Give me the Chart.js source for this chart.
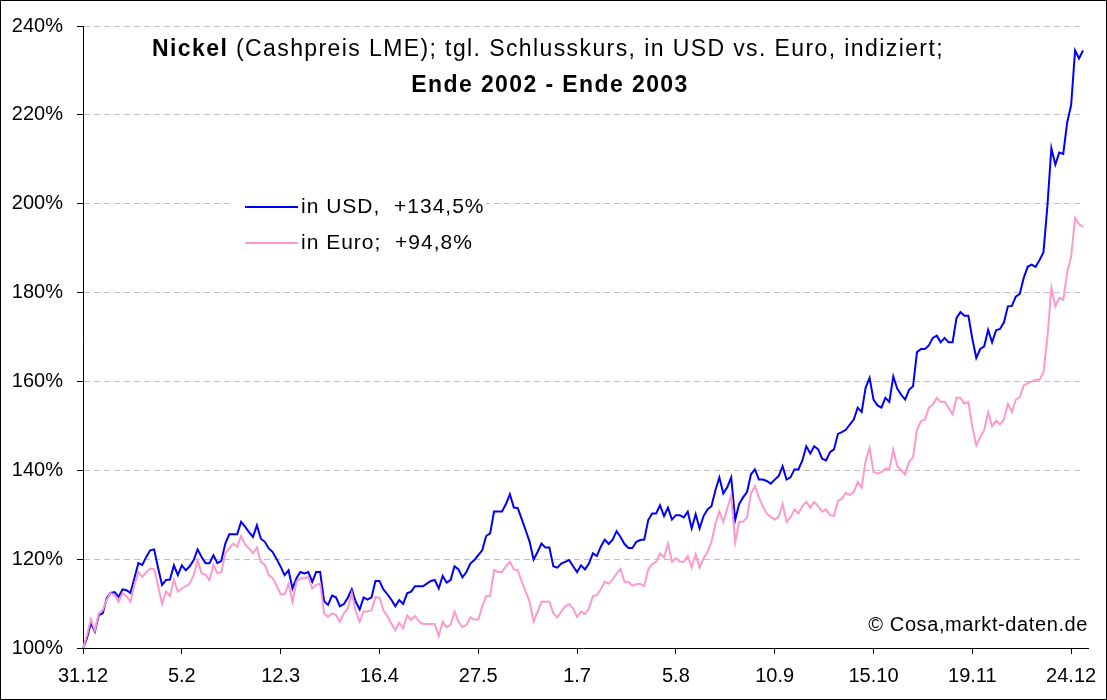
<!DOCTYPE html>
<html>
<head>
<meta charset="utf-8">
<script src="https://cdn.jsdelivr.net/npm/chart.js@4.4.0/dist/chart.umd.min.js"></script>
<style>
  body { margin: 0; background: #fff; }
  #wrap { width: 1107px; height: 700px; }
</style>
</head>
<body>
<div id="wrap"><canvas id="myChart" width="1107" height="700"></canvas></div>
<script>
// x axis: one category per trading day, a label every 25 days
var tickLabels = ['31.12', '5.2', '12.3', '16.4', '27.5', '1.7', '5.8', '10.9', '15.10', '19.11', '24.12'];
var tickEvery = 25;

// Nickel cash price, indexed (31.12.2002 = 100%)
var usd = [
  100, 102.2, 105.6, 103.7, 107.4, 107.8, 111.2, 112.4, 112.6, 111.5,
  113.2, 113, 112.4, 115.7, 119.1, 118.7, 120.5, 122, 122.2, 118,
  114.2, 115.3, 115.4, 118.6, 116.4, 118.6, 117.5, 118.4, 119.8, 122.2,
  120.5, 119.1, 119.1, 120.9, 119.1, 119.6, 123.5, 125.6, 125.6, 125.6,
  128.4, 127.3, 126.1, 125, 127.6, 124.6, 123.9, 122.4, 121.6, 120,
  118.3, 116.4, 117.5, 113.4, 115.7, 117.1, 116.8, 117.1, 114.9, 117.1,
  117.1, 110.5, 109.7, 111.8, 111.4, 109.4, 109.9, 111.3, 113.2, 110.4,
  108.7, 111.4, 110.9, 111.4, 115.1, 115.1, 113.2, 112.1, 110.9, 109.4,
  110.8, 109.9, 112.3, 112.7, 113.9, 113.9, 113.9, 114.5, 115.1, 115.3,
  113.4, 116.2, 114.7, 115.3, 118.4, 117.7, 115.9, 117.1, 119, 119.8,
  120.9, 122, 125.2, 125.8, 130.7, 130.7, 130.7, 132.4, 134.6, 131.6,
  131.5, 129, 126.5, 123.9, 119.9, 121.6, 123.5, 122.6, 122.6, 118.4,
  118.1, 119, 119.4, 119.8, 118.4, 117.1, 118.6, 117.7, 119, 121.3,
  120.7, 122.8, 124.4, 123.4, 124.4, 126.3, 125, 123.4, 122.5, 122.5,
  123.9, 124.3, 124.4, 128.8, 130.3, 130.3, 132.1, 129.7, 131.6, 128.9,
  129.9, 129.9, 129.4, 130.7, 126.9, 130.1, 126.9, 129.7, 131.2, 131.9,
  135.5, 138.4, 134.8, 136.2, 138.4, 128.8, 132.4, 133.9, 135.1, 139.1,
  140.2, 137.9, 137.9, 137.6, 137, 137.9, 138.7, 140.9, 137.9, 138.4,
  140.2, 140.2, 142.2, 145.4, 143.8, 145.4, 144.7, 142.6, 142.2, 144.1,
  144.7, 148.2, 148.6, 149.1, 150.3, 151.4, 154.1, 153.1, 158.6, 160.8,
  155.9, 154.6, 154.1, 156.3, 155.4, 161.1, 158.4, 157, 155.9, 158.1,
  158.9, 166.6, 167.3, 167.3, 168.1, 169.8, 170.3, 168.8, 169.8, 168.8,
  168.8, 174.3, 175.6, 174.8, 174.8, 169.6, 165.3, 167.3, 167.9, 171.6,
  168.8, 171.5, 171.8, 173.3, 176.9, 177, 179.1, 179.7, 183.3, 185.8,
  186.3, 185.8, 187.3, 189.1, 199.6, 212.5, 208.8, 211.5, 211.2, 218.3,
  222.2, 234.5, 232.7, 234.5
];
var euro = [
  100, 102.9, 106.5, 104, 107.8, 108.5, 110.8, 112.3, 111.9, 110.4,
  112.3, 111.7, 110.4, 114.2, 117.1, 116, 117.1, 117.9, 117.7, 114,
  109.9, 112.7, 111.7, 115.3, 112.7, 113.4, 113.9, 114.5, 116.4, 119.8,
  116.8, 116.5, 115.3, 118.7, 116.8, 117.1, 121.3, 122.4, 123.5, 122.8,
  125.2, 123.3, 122.4, 121.3, 122.6, 119.4, 118.7, 116.4, 115.7, 114,
  112.1, 112.1, 114.4, 110.4, 114.9, 115.7, 115.7, 116, 113.4, 114.2,
  114.5, 107.8, 107, 107.8, 107.4, 105.9, 107.8, 108.9, 112.3, 108.2,
  105.9, 108.2, 108.2, 108.5, 111.5, 111.3, 108.5, 107.2, 105.5, 104,
  105.7, 104.4, 107.3, 106.3, 107.2, 106, 105.4, 105.4, 105.4, 105.4,
  102.7, 105.9, 104.7, 105.2, 108.2, 105.9, 104.7, 105.2, 106.9, 106.4,
  106.4, 109.3, 111.7, 111.7, 117.5, 117.1, 117.1, 118.4, 119.4, 117.7,
  117.5, 115, 112.7, 110.4, 105.9, 108.2, 110.4, 110.4, 110.4, 107.8,
  106.9, 108.2, 109.4, 109.9, 108.9, 107, 108.2, 107.6, 108.9, 111.7,
  111.9, 113.2, 114.9, 114.5, 115.4, 116.8, 117.8, 114.9, 114.9, 114,
  114.4, 114.4, 114, 117.7, 118.9, 119.4, 121.3, 120.4, 123.5, 119.4,
  120.2, 119.4, 119.4, 120.7, 118.1, 121.1, 118.1, 120.2, 121.6, 123.9,
  127.9, 130.7, 128.4, 131.4, 134.4, 123.7, 128.4, 128.4, 129.4, 134.8,
  136.4, 133.9, 131.9, 130.3, 129.5, 128.9, 129.5, 132.4, 128.4, 129.4,
  131.2, 130.3, 131.9, 132.9, 131.6, 132.9, 131.9, 130.7, 131.2, 129.9,
  129.7, 133.1, 133.6, 134.9, 134.4, 135.1, 137.4, 136.1, 142.1, 145.1,
  139.6, 139.3, 139.6, 140.4, 140.2, 144.7, 140.9, 140, 139.1, 141.9,
  142.9, 149.1, 151.1, 151.4, 154.1, 154.8, 156.3, 155.4, 155.4, 154.1,
  152.6, 156.3, 156.3, 155, 155.4, 149.7, 145.6, 147.5, 149, 153.1,
  149.9, 151.2, 150.3, 151.4, 155, 153.1, 155.9, 156.5, 159.1, 159.6,
  160, 160.4, 160.4, 162.1, 170, 181.1, 176.9, 178.8, 178.4, 184.6,
  188.1, 196.8, 195.4, 194.8
];
var seriesNames = ['in USD,  +134,5%', 'in Euro;  +94,8%'];
var seriesColors = ['#0000ff', '#ff99cc'];

var labels = usd.map(function (v, i) {
  return i % tickEvery === 0 ? tickLabels[i / tickEvery] : '';
});

var FONT = '"Liberation Sans", Arial, sans-serif';
Chart.defaults.font.family = FONT;
Chart.defaults.color = '#000';

// title, legend box, copyright and outer frame
var decor = {
  id: 'decor',
  afterDraw: function (chart) {
    var ctx = chart.ctx;
    var area = chart.chartArea;
    ctx.save();

    // x axis line runs a little past the last day, as in the original
    ctx.strokeStyle = '#000';
    ctx.lineWidth = 1;
    ctx.beginPath();
    ctx.moveTo(area.right, area.bottom + 0.5);
    ctx.lineTo(area.right + 6, area.bottom + 0.5);
    ctx.stroke();

    ctx.fillStyle = '#000';
    ctx.textBaseline = 'middle';
    ctx.letterSpacing = '1.4px';

    // title line 1: bold + normal
    var a = 'Nickel', b = ' (Cashpreis LME); tgl. Schlusskurs, in USD vs. Euro, indiziert;';
    ctx.font = 'bold 23px ' + FONT;
    var wa = ctx.measureText(a).width;
    ctx.font = '23px ' + FONT;
    var wb = ctx.measureText(b).width;
    var x0 = 548 - (wa + wb) / 2;
    ctx.textAlign = 'left';
    ctx.font = 'bold 23px ' + FONT;
    ctx.fillText(a, x0, 50);
    ctx.font = '23px ' + FONT;
    ctx.fillText(b, x0 + wa, 50);
    ctx.font = 'bold 23px ' + FONT;
    ctx.textAlign = 'center';
    ctx.fillText('Ende 2002 - Ende 2003', 550, 86);

    // legend
    ctx.fillStyle = '#fff';
    ctx.fillRect(230, 188, 256, 70);
    ctx.letterSpacing = '1px';
    ctx.font = '21px ' + FONT;
    ctx.textAlign = 'left';
    chart.data.datasets.forEach(function (ds, k) {
      var y = 207 + k * 36;
      ctx.strokeStyle = ds.borderColor;
      ctx.lineWidth = 2;
      ctx.beginPath();
      ctx.moveTo(245, y);
      ctx.lineTo(298, y);
      ctx.stroke();
      ctx.fillStyle = '#000';
      ctx.fillText(ds.label, 301, y);
    });

    // copyright
    ctx.letterSpacing = '0.6px';
    ctx.font = '20px ' + FONT;
    ctx.textAlign = 'right';
    ctx.fillText('\u00a9 Cosa,markt-daten.de', 1088, 625);

    // frame
    ctx.letterSpacing = '0px';
    ctx.strokeStyle = '#000';
    ctx.lineWidth = 1;
    ctx.strokeRect(0.5, 0.5, chart.width - 1, chart.height - 1);
    ctx.restore();
  }
};

var ctx = document.getElementById('myChart');
var myChart = new Chart(ctx, {
  type: 'line',
  data: {
    labels: labels,
    datasets: [{
      label: seriesNames[0],
      data: usd,
      borderColor: seriesColors[0],
      backgroundColor: seriesColors[0],
      borderWidth: 2,
      pointRadius: 0,
      order: 1
    }, {
      label: seriesNames[1],
      data: euro,
      borderColor: seriesColors[1],
      backgroundColor: seriesColors[1],
      borderWidth: 2,
      pointRadius: 0,
      order: 0
    }]
  },
  options: {
    responsive: false,
    animation: false,
    layout: { padding: { left: 0, top: 25, right: 24, bottom: 0 } },
    plugins: {
      legend: { display: false },
      title: { display: false },
      tooltip: { enabled: false }
    },
    scales: {
      x: {
        afterFit: function (s) { s.height = 52; },
        border: { display: true, color: '#000', width: 1 },
        grid: {
          drawOnChartArea: false,
          drawTicks: true,
          tickLength: 6,
          tickColor: function (c) { return labels[c.index] ? '#000' : 'rgba(0,0,0,0)'; }
        },
        ticks: {
          autoSkip: false,
          maxRotation: 0,
          minRotation: 0,
          padding: 10,
          font: { size: 20 },
          color: '#000'
        }
      },
      y: {
        min: 100,
        max: 240,
        afterFit: function (s) { s.width = 83; },
        border: { display: true, color: '#000', width: 1, dash: [6, 4] },
        grid: {
          color: '#c0c0c0',
          tickColor: '#000',
          tickLength: 6,
          tickBorderDash: []
        },
        ticks: {
          stepSize: 20,
          padding: 14,
          font: { size: 20 },
          color: '#000',
          callback: function (v) { return v + '%'; }
        }
      }
    }
  },
  plugins: [decor]
});
</script>
</body>
</html>
